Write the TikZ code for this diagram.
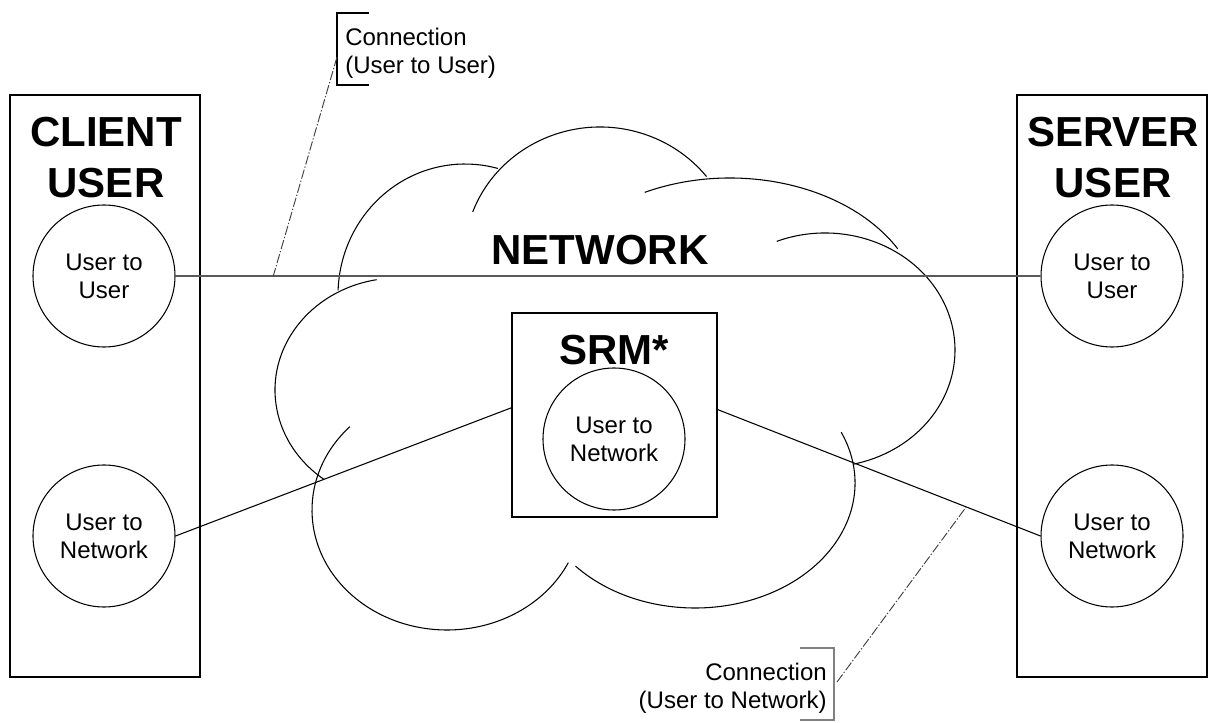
\documentclass[tikz,border=0pt]{standalone}
\usepackage{fontspec}
\setmainfont{Liberation Sans}
\usetikzlibrary{calc}
\begin{document}
\begin{tikzpicture}[x=0.75pt,y=-0.75pt,
  usrbox/.style={draw,line width=1pt,inner sep=0,minimum width=142.5pt,minimum height=436.5pt},
  role/.style={circle,draw,line width=0.8pt,inner sep=0,minimum size=106.5pt,align=center,font=\fontsize{18pt}{21pt}\selectfont},
  title/.style={inner sep=0,align=center,font=\fontsize{31.5pt}{38.25pt}\selectfont\bfseries},
  lbl/.style={inner sep=0,font=\fontsize{18pt}{21pt}\selectfont},
  conn/.style={line width=0.8pt},
  leader/.style={line width=0.7pt,draw=black!75,dash pattern=on 7pt off 1.5pt on 1pt off 1.5pt},
  cloudline/.style={line width=0.8pt}]
\useasboundingbox (0,0) rectangle (1213,723);
\fill[white] (0,0) rectangle (1213,723);
% cloud lobes (elliptic arcs)
\draw[cloudline] ($(465,295)+(182:127 and 131)$) arc[start angle=182,end angle=285,x radius=127,y radius=131];
\draw[cloudline] ($(600,258)+(200.6:136 and 131)$) arc[start angle=200.6,end angle=321.6,x radius=136,y radius=131];
\draw[cloudline] ($(730,316)+(243.6:192 and 138)$) arc[start angle=243.6,end angle=330.9,x radius=192,y radius=138];
\draw[cloudline] ($(825,350)+(248.2:130 and 117)$) arc[start angle=248.2,end angle=437.4,x radius=130,y radius=117];
\draw[cloudline] ($(695,483)+(-24:160 and 125)$) arc[start angle=-24,end angle=138.3,x radius=160,y radius=125];
\draw[cloudline] ($(447,510)+(224:135 and 120)$) arc[start angle=224,end angle=26,x radius=135,y radius=120];
\draw[cloudline] ($(398,390)+(260:123 and 112)$) arc[start angle=260,end angle=127,x radius=123,y radius=112];
% boxes and nodes
\node[usrbox] (client) at (105,386) {};
\node[title] (clientT) at (106,157.5) {CLIENT\\USER};
\node[role] (lu2u) at (104,276) {User to\\User};
\node[role] (lu2n) at (104,536) {User to\\Network};
\node[usrbox] (server) at (1112,386) {};
\node[title] (serverT) at (1113,157.5) {SERVER\\USER};
\node[role] (ru2u) at (1112,276) {User to\\User};
\node[role] (ru2n) at (1112,536) {User to\\Network};
\node[draw,line width=1pt,inner sep=0,minimum width=153.75pt,minimum height=153pt] (srm) at (614.5,415) {};
\node[title,anchor=base] (srmT) at (614,364) {SRM*};
\node[role] (su2n) at (614,439) {User to\\Network};
\node[title,anchor=base] (netT) at (600,265) {NETWORK};
% connections
\draw[line width=1.1pt,draw=black!65] (lu2u.east) -- (ru2u.west);
\draw[conn] (lu2n.east) -- (srm.176);
\draw[conn] (srm.3) -- (ru2n.west);
% labels
\node[lbl,align=left,anchor=west] (c1) at (345,53) {Connection\\(User to User)};
\node[lbl,align=right,anchor=east] (c2) at (827,688) {Connection\\(User to Network)};
\draw[line width=1pt] (369,13) -- (337,13) -- (337,85) -- (369,85);
\draw[line width=1pt,draw=black!50] (800,648) -- (834,648) -- (834,720) -- (800,720);
\coordinate (k1) at (337,57);
\coordinate (k1e) at ($(lu2u.east)!0.113!(ru2u.west)$);
\draw[leader] (k1) -- (k1e);
\coordinate (k2) at (837,682);
\coordinate (k2e) at ($(srm.3)!0.77!(ru2n.west)$);
\draw[leader] (k2) -- (k2e);
\end{tikzpicture}
\end{document}
